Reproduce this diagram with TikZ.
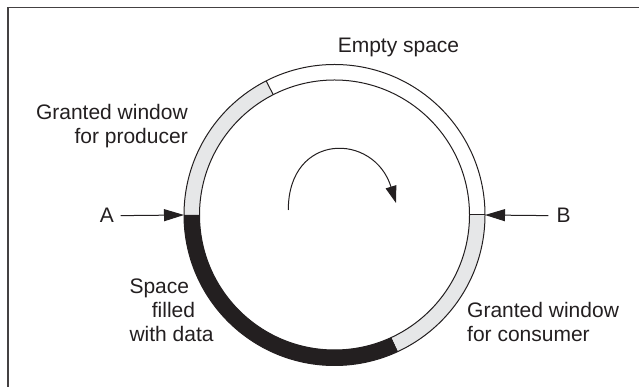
\documentclass[tikz,border=0pt]{standalone}
\usepackage{fontspec}
\setmainfont{Liberation Sans}
\usetikzlibrary{arrows.meta}

\definecolor{windowgrey}{RGB}{230,231,232}
\definecolor{inkblack}{RGB}{35,31,32}

\begin{document}
\begin{tikzpicture}[x=1pt,y=1pt,>={Triangle[length=20pt,width=12pt]},
  label/.style={font=\fontsize{21}{24}\selectfont,text=inkblack,inner sep=0pt},
  ring/.style={draw=inkblack,line width=1pt}]
\useasboundingbox (0,0) rectangle (639,387);

% frame around the figure
\draw[line width=1.5pt,inkblack!85] (8,0) -- (8,379.5) -- (639,379.5);

% define the ring buffer
\coordinate (c) at (334.5,172);
\def\rout{150.5}
\def\rin{135}
\begin{scope}[shift={(c)}]
  % granted window for producer
  \fill[windowgrey] (117:\rout) arc[start angle=117,end angle=180,radius=\rout]
    -- (180:\rin) arc[start angle=180,end angle=117,radius=\rin] -- cycle;
  % space filled with data
  \fill[inkblack] (180:\rout) arc[start angle=180,end angle=295,radius=\rout]
    -- (295:\rin) arc[start angle=295,end angle=180,radius=\rin] -- cycle;
  % granted window for consumer
  \fill[windowgrey] (295:\rout) arc[start angle=295,end angle=360,radius=\rout]
    -- (0:\rin) arc[start angle=360,end angle=295,radius=\rin] -- cycle;
  \draw[ring] (0,0) circle[radius=\rout];
  \draw[ring] (0,0) circle[radius=\rin];
  \draw[ring] (117:\rin) -- (117:\rout);
  \draw[ring] (0:\rin) -- (0:\rout);
  \coordinate (a) at (180:\rout);
  \coordinate (b) at (0:\rout);
\end{scope}

% define the labels (base = last line)
\node[label,anchor=base] (empty) at (398.5,334) {Empty space};
\node[label,anchor=base east,align=right] (producer) at (188,243)
  {Granted window\\for producer};
\node[label,anchor=base west,align=left] (filled) at (129.3,45)
  {Space\\\hspace*{22.4pt}filled\\with data};
\node[label,anchor=base west,align=left] (consumer) at (467,45)
  {Granted window\\for consumer};
\node[label,anchor=base] (A) at (107,164) {A};
\node[label,anchor=base] (B) at (563.5,164) {B};

% define the pointers
\draw[->,inkblack,line width=1pt,shorten <=6.5pt] (A) -- (a);
\draw[->,inkblack,line width=1pt,shorten <=8pt] (B) -- (b);

% direction of rotation
\coordinate (turnstart) at (288.3,177);
\coordinate (turnend) at (396,184);
\draw[->,>={Triangle[length=17pt,width=11pt]},inkblack,line width=1pt]
  (turnstart) .. controls (288.3,255) and (374,255) .. (turnend);

\end{tikzpicture}
\end{document}
